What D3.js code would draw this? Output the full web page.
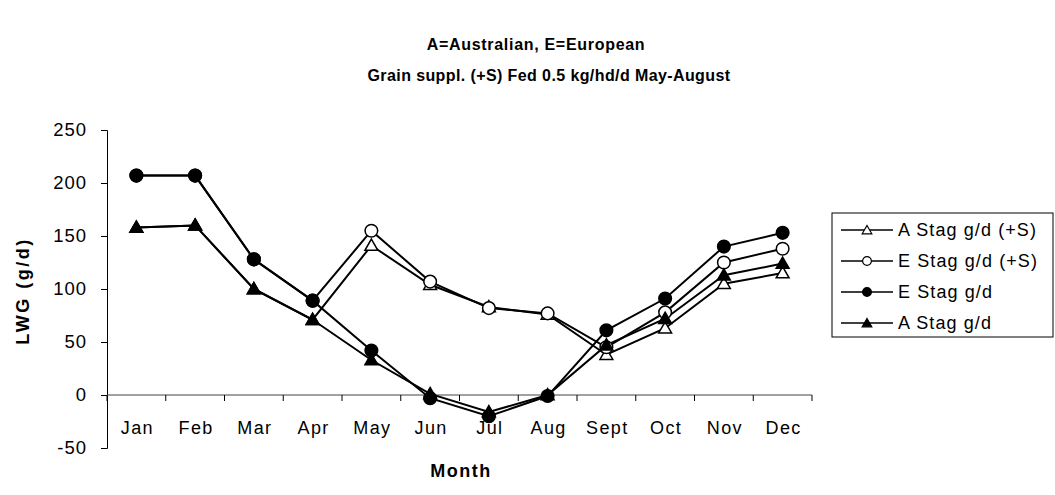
<!DOCTYPE html>
<html>
<head>
<meta charset="utf-8">
<script src="https://cdn.jsdelivr.net/npm/d3@7"></script>
<style>
  body { margin: 0; background: #fff; }
  text { font-family: "Liberation Sans", Arial, sans-serif; }
</style>
</head>
<body>
<svg id="chart"></svg>
<script>
const width = 1055,
    height = 495;

// data
const months = ["Jan", "Feb", "Mar", "Apr", "May", "Jun", "Jul", "Aug", "Sept", "Oct", "Nov", "Dec"];
const aStagSuppl = [158, 160, 100, 71, 141, 104, 83, 76, 38, 63, 105, 115];
const eStagSuppl = [207, 207, 128, 89, 155, 107, 82, 77, 45, 78, 125, 138];
const eStag = [207, 207, 128, 89, 42, -3, -20, -1, 61, 91, 140, 153];
const aStag = [158, 160, 100, 71, 33, 1, -16, 0, 47, 72, 113, 124];
const yTicks = [-50, 0, 50, 100, 150, 200, 250];

const series = [
    { name: "A Stag g/d (+S)", values: aStagSuppl, shape: "triangle", fill: "#fff" },
    { name: "E Stag g/d (+S)", values: eStagSuppl, shape: "circle", fill: "#fff" },
    { name: "E Stag g/d", values: eStag, shape: "circle", fill: "#000" },
    { name: "A Stag g/d", values: aStag, shape: "triangle", fill: "#000" }
];

const svg = d3.select("#chart")
    .attr("width", width)
    .attr("height", height);

const x = d3.scaleBand()
    .domain(months)
    .range([107, 812]);

const y = d3.scaleLinear()
    .domain([-50, 250])
    .range([448, 130]);

const symbolFor = shape => shape === "triangle"
    ? d3.symbol().type(d3.symbolTriangle).size(72)
    : d3.symbol().type(d3.symbolCircle).size(125);

// titles
svg.append("text")
    .attr("x", 536).attr("y", 50)
    .attr("text-anchor", "middle")
    .attr("font-size", 16).attr("font-weight", "bold")
    .attr("letter-spacing", 0.7)
    .text("A=Australian, E=European");
svg.append("text")
    .attr("x", 549).attr("y", 81)
    .attr("text-anchor", "middle")
    .attr("font-size", 16).attr("font-weight", "bold")
    .attr("letter-spacing", 0.4)
    .text("Grain suppl. (+S) Fed 0.5 kg/hd/d May-August");

// y axis
const yAxis = svg.append("g")
    .attr("transform", "translate(107,0)")
    .call(d3.axisLeft(y).tickValues(yTicks).tickFormat(d => String(d)).tickSize(6).tickPadding(14));
yAxis.select(".domain").attr("stroke", "#000");
yAxis.selectAll(".tick line").attr("stroke", "#000");
yAxis.selectAll("text")
    .attr("font-size", 18.5)
    .attr("letter-spacing", 1)
    .attr("font-family", "Liberation Sans, Arial, sans-serif")
    .attr("fill", "#000");

// x axis at zero, ticks between categories
const xAxis = svg.append("g")
    .attr("transform", `translate(0,${y(0)})`);
xAxis.append("line")
    .attr("x1", x.range()[0]).attr("x2", x.range()[1])
    .attr("stroke", "#444").attr("stroke-width", 1.2);
xAxis.selectAll(".xtick")
    .data(months.concat(["end"]))
    .enter().append("line")
    .attr("x1", (d, i) => x.range()[0] + i * x.step())
    .attr("x2", (d, i) => x.range()[0] + i * x.step())
    .attr("y1", 0).attr("y2", 6)
    .attr("stroke", "#000");
svg.selectAll(".xlabel")
    .data(months)
    .enter().append("text")
    .attr("x", d => x(d) + x.bandwidth() / 2 + 1)
    .attr("y", y(0) + 39)
    .attr("text-anchor", "middle")
    .attr("font-size", 18)
    .attr("letter-spacing", 1.4)
    .text(d => d);

// axis titles
svg.append("text")
    .attr("x", 461).attr("y", 477)
    .attr("text-anchor", "middle")
    .attr("font-size", 18).attr("font-weight", "bold")
    .attr("letter-spacing", 1.5)
    .text("Month");
svg.append("text")
    .attr("transform", `translate(29,${y(100) + 2}) rotate(-90)`)
    .attr("text-anchor", "middle")
    .attr("font-size", 18).attr("font-weight", "bold")
    .attr("letter-spacing", 2.5)
    .text("LWG (g/d)");

// lines and markers
const line = d3.line()
    .x((d, i) => x(months[i]) + x.bandwidth() / 2)
    .y(d => y(d));

series.forEach(s => {
    svg.append("path")
        .datum(s.values)
        .attr("d", line)
        .attr("fill", "none")
        .attr("stroke", "#000")
        .attr("stroke-width", 2);
});
series.forEach(s => {
    svg.selectAll(null)
        .data(s.values)
        .enter().append("path")
        .attr("d", symbolFor(s.shape))
        .attr("transform", (d, i) => `translate(${x(months[i]) + x.bandwidth() / 2},${y(d) + (s.shape === "triangle" ? 1 : 0)})`)
        .attr("fill", s.fill)
        .attr("stroke", "#000")
        .attr("stroke-width", 1.5);
});

// legend
const legend = svg.append("g").attr("transform", "translate(832,213)");
legend.append("rect")
    .attr("width", 221).attr("height", 124)
    .attr("fill", "#fff").attr("stroke", "#000").attr("stroke-width", 1);
const items = legend.selectAll(".item")
    .data(series)
    .enter().append("g")
    .attr("transform", (d, i) => `translate(0,${17 + i * 31})`);
items.append("line")
    .attr("x1", 9).attr("x2", 61)
    .attr("stroke", "#000").attr("stroke-width", 1.5);
items.append("path")
    .attr("d", d => d.shape === "triangle"
        ? d3.symbol().type(d3.symbolTriangle).size(40)()
        : d3.symbol().type(d3.symbolCircle).size(60)())
    .attr("transform", d => `translate(35,${d.shape === "triangle" ? 1 : 0})`)
    .attr("fill", d => d.fill)
    .attr("stroke", "#000").attr("stroke-width", 1.2);
items.append("text")
    .attr("x", 66).attr("y", 6)
    .attr("font-size", 18)
    .attr("letter-spacing", 1.1)
    .text(d => d.name);
</script>
</body>
</html>
